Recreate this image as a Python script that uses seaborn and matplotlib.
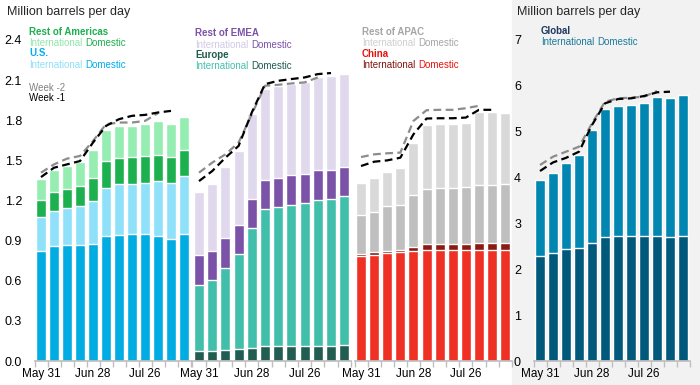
import numpy as np
import seaborn as sns
import matplotlib.pyplot as plt

# weekly volumes, million barrels per day
weeks = ['May 31', 'Jun 7', 'Jun 14', 'Jun 21', 'Jun 28', 'Jul 5', 'Jul 12',
         'Jul 19', 'Jul 26', 'Aug 2', 'Aug 9', 'Aug 16']
tick_weeks = ['May 31', 'Jun 28', 'Jul 26']

us_dom = [0.82, 0.857, 0.865, 0.865, 0.872, 0.938, 0.945, 0.947, 0.953, 0.932, 0.915, 0.95]
us_intl = [0.255, 0.263, 0.278, 0.293, 0.326, 0.358, 0.378, 0.376, 0.38, 0.413, 0.413, 0.43]
roa_dom = [0.128, 0.14, 0.142, 0.147, 0.17, 0.197, 0.195, 0.2, 0.2, 0.198, 0.2, 0.198]
roa_intl = [0.155, 0.165, 0.175, 0.185, 0.21, 0.235, 0.242, 0.237, 0.242, 0.25, 0.247, 0.247]

eu_dom = [0.075, 0.075, 0.085, 0.088, 0.1, 0.113, 0.113, 0.113, 0.113, 0.113, 0.113, 0.118]
eu_intl = [0.495, 0.528, 0.61, 0.709, 0.895, 1.025, 1.042, 1.055, 1.067, 1.092, 1.1, 1.115]
roe_dom = [0.22, 0.217, 0.223, 0.218, 0.218, 0.217, 0.215, 0.22, 0.215, 0.225, 0.217, 0.217]
roe_intl = [0.473, 0.5, 0.532, 0.555, 0.637, 0.678, 0.688, 0.682, 0.688, 0.69, 0.703, 0.695]

cn_dom = [0.783, 0.79, 0.808, 0.815, 0.82, 0.828, 0.828, 0.828, 0.828, 0.828, 0.828, 0.828]
cn_intl = [0.015, 0.023, 0.017, 0.013, 0.035, 0.045, 0.045, 0.045, 0.045, 0.055, 0.055, 0.055]
roap_dom = [0.292, 0.3, 0.333, 0.337, 0.385, 0.415, 0.42, 0.42, 0.427, 0.432, 0.432, 0.44]
roap_intl = [0.243, 0.255, 0.255, 0.278, 0.388, 0.477, 0.48, 0.48, 0.483, 0.543, 0.543, 0.53]

gl_dom = [2.296, 2.362, 2.436, 2.457, 2.566, 2.697, 2.719, 2.719, 2.732, 2.719, 2.697, 2.732]
gl_intl = [1.644, 1.731, 1.882, 2.035, 2.471, 2.798, 2.841, 2.857, 2.887, 3.031, 3.045, 3.068]

# totals as estimated one and two weeks earlier
am_wk1 = [1.375, 1.445, 1.47, 1.495, 1.633, 1.758, 1.808, 1.833, 1.84, 1.858, 1.87]
am_wk2 = [1.408, 1.47, 1.513, 1.533, 1.645, 1.77, 1.783, 1.783, 1.795, 1.853]
em_wk1 = [1.345, 1.42, 1.52, 1.608, 1.858, 2.07, 2.095, 2.108, 2.12, 2.145, 2.153]
em_wk2 = [1.408, 1.483, 1.545, 1.633, 1.845, 2.058, 2.065, 2.075, 2.083, 2.12]
ap_wk1 = [1.458, 1.49, 1.5, 1.52, 1.695, 1.813, 1.815, 1.815, 1.82, 1.878, 1.878]
ap_wk2 = [1.525, 1.545, 1.553, 1.558, 1.795, 1.875, 1.878, 1.878, 1.89, 1.908]
gl_wk1 = [4.143, 4.33, 4.43, 4.564, 5.146, 5.619, 5.713, 5.728, 5.778, 5.859, 5.873]
gl_wk2 = [4.274, 4.455, 4.564, 4.673, 5.183, 5.654, 5.728, 5.742, 5.764, 5.888]

W, H = 700, 385
AXIS_GRAY = '#BFBFBF'

sns.set_theme(style='white')
plt.rcParams['font.family'] = ['Liberation Sans', 'DejaVu Sans']

fig = plt.figure(figsize=(W / 100, H / 100), dpi=100)
fig.patches.append(plt.Rectangle((512 / W, 0), 188 / W, 1, transform=fig.transFigure,
                                 color='#F2F2F2', zorder=-1))


def px_axes(x0, x1, y0=361, y1=40):
    return fig.add_axes([x0 / W, 1 - y0 / H, (x1 - x0) / W, (y0 - y1) / H])


def stacked(ax, layers, colors):
    # seaborn stacking: draw cumulative totals from the top layer down
    cum = np.cumsum(np.array(layers), axis=0)
    for top, c in reversed(list(zip(cum, colors))):
        sns.barplot(x=weeks, y=top, color=c, saturation=1, width=0.77, ax=ax)


def week_lines(ax, wk2, wk1):
    ax.plot(np.arange(len(wk2)), wk2, color='#8C8C8C', lw=1.6, ls=(0, (3.5, 2)), zorder=5)
    ax.plot(np.arange(len(wk1)), wk1, color='black', lw=1.6, ls=(0, (3.5, 2)), zorder=6)


def style_axes(ax, ymax, yticks, fmt, show_y):
    ax.set_xlim(-0.5, 11.5)
    ax.set_ylim(0, ymax)
    ax.set_facecolor('none')
    for s in ['top', 'right', 'left']:
        ax.spines[s].set_visible(False)
    ax.spines['bottom'].set_color(AXIS_GRAY)
    ax.set_xticks([0, 4, 8], labels=tick_weeks)
    ax.set_xticks(np.arange(-0.5, 12, 1), minor=True)
    ax.tick_params(axis='x', which='major', length=0, pad=5, labelsize=8.5, labelcolor='black')
    ax.tick_params(axis='x', which='minor', length=4, color=AXIS_GRAY, bottom=True)
    ax.set_yticks(yticks)
    if show_y:
        ax.set_yticklabels([fmt.format(v) for v in yticks])
        ax.tick_params(axis='y', length=0, pad=9, labelsize=9, labelcolor='black')
    else:
        ax.tick_params(axis='y', length=0, labelleft=False)
    ax.set_xlabel('')
    ax.set_ylabel('')


ax_am = px_axes(34.5, 190.5)
ax_em = px_axes(192.4, 350.8)
ax_ap = px_axes(354.5, 511.7)
ax_gl = px_axes(533.5, 689.5)

stacked(ax_am, [us_dom, us_intl, roa_dom, roa_intl], ['#00ACE2', '#8FE1FA', '#1DB04E', '#95EDB2'])
stacked(ax_em, [eu_dom, eu_intl, roe_dom, roe_intl], ['#215E51', '#42BFAB', '#7A52A7', '#E0D8EC'])
stacked(ax_ap, [cn_dom, cn_intl, roap_dom, roap_intl], ['#EE3124', '#8B1A12', '#BFBFBF', '#D9D9D9'])
stacked(ax_gl, [gl_dom, gl_intl], ['#00587A', '#0086B0'])

week_lines(ax_am, am_wk2, am_wk1)
week_lines(ax_em, em_wk2, em_wk1)
week_lines(ax_ap, ap_wk2, ap_wk1)
week_lines(ax_gl, gl_wk2, gl_wk1)

left_ticks = np.round(np.arange(0, 2.41, 0.3), 1)
style_axes(ax_am, 2.4, left_ticks, '{:.1f}', True)
style_axes(ax_em, 2.4, left_ticks, '{:.1f}', False)
style_axes(ax_ap, 2.4, left_ticks, '{:.1f}', False)
style_axes(ax_gl, 7, np.arange(0, 8), '{:.0f}', True)

fig.text(7 / W, 1 - 12 / H, 'Million barrels per day', fontsize=9, va='center')
fig.text(517 / W, 1 - 12 / H, 'Million barrels per day', fontsize=9, va='center')


def ftext(x, y, s, color, bold=False):
    return fig.text(x / W, 1 - y / H, s, color=color, fontsize=7, va='center',
                    fontweight='bold' if bold else 'normal')


def pair(x, y, c_int, c_dom):
    t = ftext(x, y, 'International', c_int)
    ax_am.annotate('Domestic', xy=(1, 0.5), xycoords=t, xytext=(2, 0),
                   textcoords='offset points', va='center', ha='left',
                   fontsize=7, color=c_dom)


ftext(29, 32, 'Rest of Americas', '#1DB04E', True)
pair(29, 43, '#8FE8AA', '#1DB04E')
ftext(29, 53.5, 'U.S.', '#00AEEF', True)
pair(29, 64.5, '#8EDFF8', '#00AEEF')
ftext(29, 88, 'Week -2', '#808080')
ftext(29, 98.5, 'Week -1', 'black')

ftext(195, 33.5, 'Rest of EMEA', '#7B52A8', True)
pair(195, 45, '#D3C9E6', '#7B52A8')
ftext(195, 55.5, 'Europe', '#1E5C50', True)
pair(195, 66, '#45C0AC', '#1E5C50')

ftext(362, 32, 'Rest of APAC', '#A6A6A6', True)
pair(362, 43, '#CFCFCF', '#A6A6A6')
ftext(362, 54, 'China', '#E8140C', True)
pair(362, 64.5, '#7F1710', '#E8140C')

ftext(541, 31, 'Global', '#1F3864', True)
pair(541, 42, '#1B7A9C', '#1B7A9C')

fig.savefig('out.png', dpi=100)
